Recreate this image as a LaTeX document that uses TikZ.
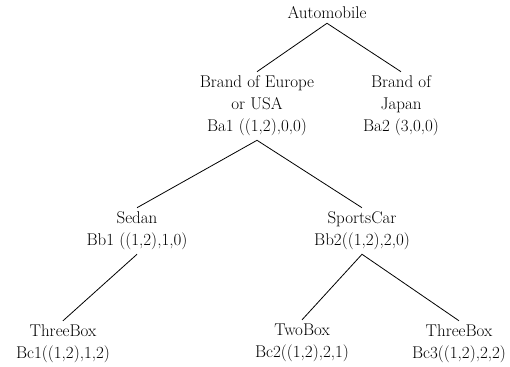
\documentclass[tikz,border=0pt]{standalone}
\begin{document}
\begin{tikzpicture}[x=1pt,y=-1pt,
  every node/.style={align=center,inner sep=4pt,font=\fontsize{17}{22}\selectfont},
  branch/.style={line width=0.8pt}]
  \useasboundingbox (0,0) rectangle (510,366);
  % root
  \node (auto) at (327,13) {Automobile};
  % brands
  \node (ba1) at (257,106) {Brand of Europe\\or USA\\Ba1 ((1,2),0,0)};
  \node (ba2) at (401,106) {Brand of\\Japan\\Ba2 (3,0,0)};
  % body types
  \node (bb1) at (137,231) {Sedan\\Bb1 ((1,2),1,0)};
  \node (bb2) at (362,231) {SportsCar\\Bb2((1,2),2,0)};
  % leaves
  \node (bc1) at (63,344) {ThreeBox\\Bc1((1,2),1,2)};
  \node (bc2) at (302,343) {TwoBox\\Bc2((1,2),2,1)};
  \node (bc3) at (459,344) {ThreeBox\\Bc3((1,2),2,2)};
  \draw[branch] (ba1.north) -- (auto.south) -- (ba2.north);
  \draw[branch] (bb1.north) -- (ba1.south) -- (bb2.north);
  \draw[branch] (bc1.north) -- (bb1.south);
  \draw[branch] (bc2.north) -- (bb2.south) -- (bc3.north);
\end{tikzpicture}
\end{document}
